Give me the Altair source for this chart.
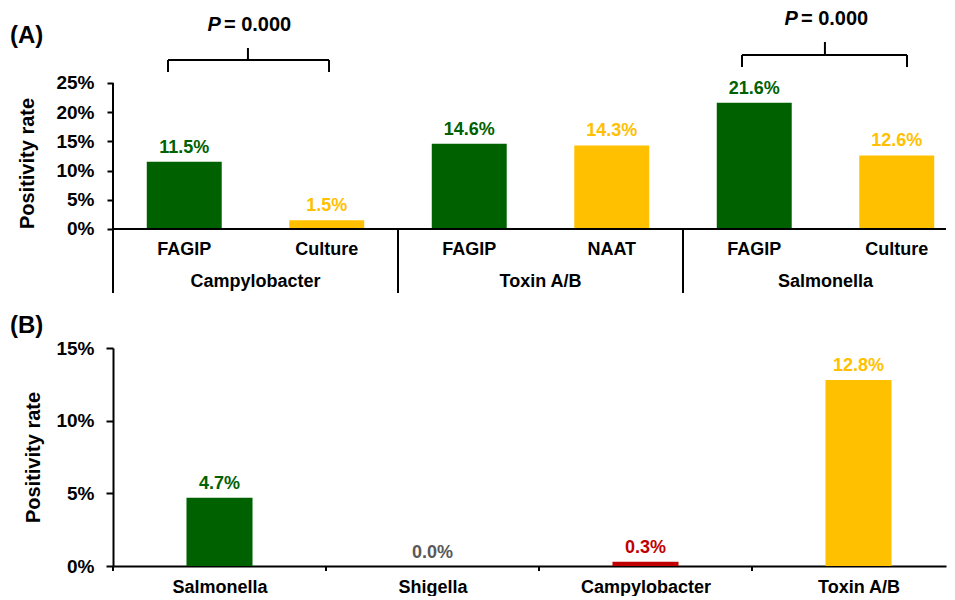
import altair as alt
import pandas as pd

FONT = "Liberation Sans"
LINE = "#000000"

# ---------------- Panel (A) data ----------------
a_group = ["Campylobacter", "Campylobacter", "Toxin A/B", "Toxin A/B", "Salmonella", "Salmonella"]
a_method = ["FAGIP", "Culture", "FAGIP", "NAAT", "FAGIP", "Culture"]
a_value = [11.5, 1.5, 14.6, 14.3, 21.6, 12.6]
a_color = ["#006100", "#FFC000", "#006100", "#FFC000", "#006100", "#FFC000"]
a_group_names = ["Campylobacter", "Toxin A/B", "Salmonella"]
a_ticks = [0, 5, 10, 15, 20, 25]
p_label = ["P", "= 0.000"]
# significance brackets (in axis units): left, right, stem, bar level, end level, stem top, text baseline
br_left = [0.386, 4.414]
br_right = [1.516, 5.572]
br_stem = [0.947, 4.996]
br_bar = [28.94, 29.79]
br_end = [26.88, 27.74]
br_top = [30.99, 32.02]
br_text = [33.9, 34.85]

# ---------------- Panel (B) data ----------------
b_category = ["Salmonella", "Shigella", "Campylobacter", "Toxin A/B"]
b_value = [4.7, 0.0, 0.3, 12.8]
b_color = ["#006100", "#595959", "#C00000", "#FFC000"]
b_ticks = [0, 5, 10, 15]

# ---------------- layout ----------------
WA, HA = 833, 285
BAND_A = 142.5
PX_PER_PCT_A = 5.84
A_XMAX = WA / BAND_A
A_YMIN = -10.96
A_YMAX = A_YMIN + HA / PX_PER_PCT_A
A_METHOD_Y = -3.6
A_GROUP_Y = -9.08
A_HALF = 0.263

WB, HB = 833, 218
BAND_B = 213.0
B_XMAX = WB / BAND_B
B_HALF = 0.155
B_TICK = -0.344

# ---------------- Panel A ----------------
xsA = alt.Scale(domain=[0, A_XMAX], nice=False, zero=False)
ysA = alt.Scale(domain=[A_YMIN, A_YMAX], nice=False, zero=False)
axisA = alt.Axis(values=a_ticks, labelExpr="datum.value + '%'", domain=False, grid=False,
                 tickSize=6, tickWidth=2, tickColor=LINE, labelPadding=13, labelFontSize=19,
                 labelFont=FONT, labelFontWeight="bold", labelColor="#000",
                 title="Positivity rate", titleFontSize=20, titleFont=FONT, titleFontWeight="bold",
                 titleColor="#000", titlePadding=18, titleY=155)


def XA(f):
    return alt.X(f, type="quantitative", scale=xsA, axis=None)


def YA(f):
    return alt.Y(f, type="quantitative", scale=ysA, axis=axisA)


dfA = pd.DataFrame({"group": a_group, "method": a_method, "value": a_value, "color": a_color})
dfA["i"] = range(len(dfA))
dfA["c"] = dfA["i"] + 0.5
dfA["lo"] = dfA["c"] - A_HALF
dfA["hi"] = dfA["c"] + A_HALF
dfA["zero"] = 0.0
dfA["label"] = dfA["value"].map(lambda v: f"{v:.1f}%")
dfA["my"] = A_METHOD_Y

barsA = alt.Chart(dfA).mark_bar().encode(
    x=XA("lo"), x2="hi", y=YA("value"), y2="zero", color=alt.Color("color:N", scale=None)
)
valA = alt.Chart(dfA).mark_text(font=FONT, fontWeight="bold", fontSize=18, baseline="alphabetic", dy=-9).encode(
    x=XA("c"), y=YA("value"), text="label:N", color=alt.Color("color:N", scale=None)
)
methA = alt.Chart(dfA).mark_text(font=FONT, fontWeight="bold", fontSize=18, baseline="middle", color="#000").encode(
    x=XA("c"), y=YA("my"), text="method:N"
)
dfG = pd.DataFrame({"name": a_group_names})
dfG["c"] = [2 * k + 1 for k in range(len(dfG))]
dfG["y"] = A_GROUP_Y
groupA = alt.Chart(dfG).mark_text(font=FONT, fontWeight="bold", fontSize=18, baseline="middle", color="#000").encode(
    x=XA("c"), y=YA("y"), text="name:N"
)

# axis lines / separators
seg = []
seg.append(dict(x=0, x2=0, y=A_YMIN, y2=a_ticks[-1]))          # y axis line
seg.append(dict(x=0, x2=A_XMAX, y=0, y2=0))                   # baseline
for k in range(1, len(a_group_names)):
    seg.append(dict(x=2 * k, x2=2 * k, y=A_YMIN, y2=0))        # group separators
for l, r, s, b, e, t in zip(br_left, br_right, br_stem, br_bar, br_end, br_top):
    seg.append(dict(x=l, x2=r, y=b, y2=b))
    seg.append(dict(x=l, x2=l, y=e, y2=b))
    seg.append(dict(x=r, x2=r, y=e, y2=b))
    seg.append(dict(x=s, x2=s, y=b, y2=t))
dfS = pd.DataFrame(seg)
linesA = alt.Chart(dfS).mark_rule(color=LINE, strokeWidth=2).encode(
    x=XA("x"), x2="x2", y=YA("y"), y2="y2"
)

dfP = pd.DataFrame({"x": br_stem, "y": br_text})
dfP["p"] = p_label[0]
dfP["rest"] = p_label[1]
pA = alt.Chart(dfP).mark_text(font=FONT, fontWeight="bold", fontStyle="italic", fontSize=20,
                              align="right", baseline="alphabetic", dx=-27, color="#000").encode(
    x=XA("x"), y=YA("y"), text="p:N"
)
restA = alt.Chart(dfP).mark_text(font=FONT, fontWeight="bold", fontSize=20,
                                 align="left", baseline="alphabetic", dx=-24, color="#000").encode(
    x=XA("x"), y=YA("y"), text="rest:N"
)
dfLA = pd.DataFrame({"x": [-103 / BAND_A], "y": [33.05], "t": ["(A)"]})
tagA = alt.Chart(dfLA).mark_text(font=FONT, fontWeight="bold", fontSize=24, align="left",
                                 baseline="middle", color="#000").encode(
    x=XA("x"), y=YA("y"), text="t:N"
)

chartA = alt.layer(barsA, linesA, valA, methA, groupA, pA, restA, tagA).properties(width=WA, height=HA)

# ---------------- Panel B ----------------
xsB = alt.Scale(domain=[0, B_XMAX], nice=False, zero=False)
ysB = alt.Scale(domain=[b_ticks[0], b_ticks[-1]], nice=False)
axisBx = alt.Axis(values=[k + 0.5 for k in range(len(b_category))],
                  labelExpr="[" + ",".join(f"'{c}'" for c in b_category) + "][floor(datum.value)]",
                  ticks=False, tickSize=0, grid=False, domain=True, domainColor=LINE, domainWidth=2,
                  labelPadding=12, labelFontSize=18, labelFont=FONT, labelFontWeight="bold",
                  labelColor="#000", title=None)
axisBy = alt.Axis(values=b_ticks, labelExpr="datum.value + '%'", domain=True, domainColor=LINE,
                  domainWidth=2, grid=False, tickSize=7, tickWidth=2, tickColor=LINE, labelPadding=12,
                  labelFontSize=19, labelFont=FONT, labelFontWeight="bold", labelColor="#000",
                  title="Positivity rate", titleFontSize=20, titleFont=FONT, titleFontWeight="bold",
                  titleColor="#000", titlePadding=12)


def XB(f):
    return alt.X(f, type="quantitative", scale=xsB, axis=axisBx)


def YB(f):
    return alt.Y(f, type="quantitative", scale=ysB, axis=axisBy)


dfB = pd.DataFrame({"cat": b_category, "value": b_value, "color": b_color})
dfB["i"] = range(len(dfB))
dfB["c"] = dfB["i"] + 0.5
dfB["lo"] = dfB["c"] - B_HALF
dfB["hi"] = dfB["c"] + B_HALF
dfB["zero"] = 0.0
dfB["label"] = dfB["value"].map(lambda v: f"{v:.1f}%")

barsB = alt.Chart(dfB).mark_bar().encode(
    x=XB("lo"), x2="hi", y=YB("value"), y2="zero", color=alt.Color("color:N", scale=None)
)
valB = alt.Chart(dfB).mark_text(font=FONT, fontWeight="bold", fontSize=18, baseline="alphabetic", dy=-8.5).encode(
    x=XB("c"), y=YB("value"), text="label:N", color=alt.Color("color:N", scale=None)
)
dfT = pd.DataFrame({"x": list(range(len(b_category)))})
dfT["y"] = 0.0
dfT["y2"] = B_TICK
ticksB = alt.Chart(dfT).mark_rule(color=LINE, strokeWidth=2).encode(
    x=XB("x"), y=YB("y"), y2="y2"
)
dfLB = pd.DataFrame({"x": [-103 / BAND_B], "y": [16.52], "t": ["(B)"]})
tagB = alt.Chart(dfLB).mark_text(font=FONT, fontWeight="bold", fontSize=24, align="left",
                                 baseline="middle", color="#000").encode(
    x=XB("x"), y=YB("y"), text="t:N"
)

chartB = alt.layer(barsB, ticksB, valB, tagB).properties(width=WB, height=HB)

chart = alt.vconcat(chartA, chartB, spacing=19).properties(
    padding={"left": 2, "top": 0, "right": 0, "bottom": 0}
).configure(font=FONT).configure_view(strokeWidth=0, stroke=None)

chart.save("out.html", embed_options={"renderer": "svg", "actions": False})
